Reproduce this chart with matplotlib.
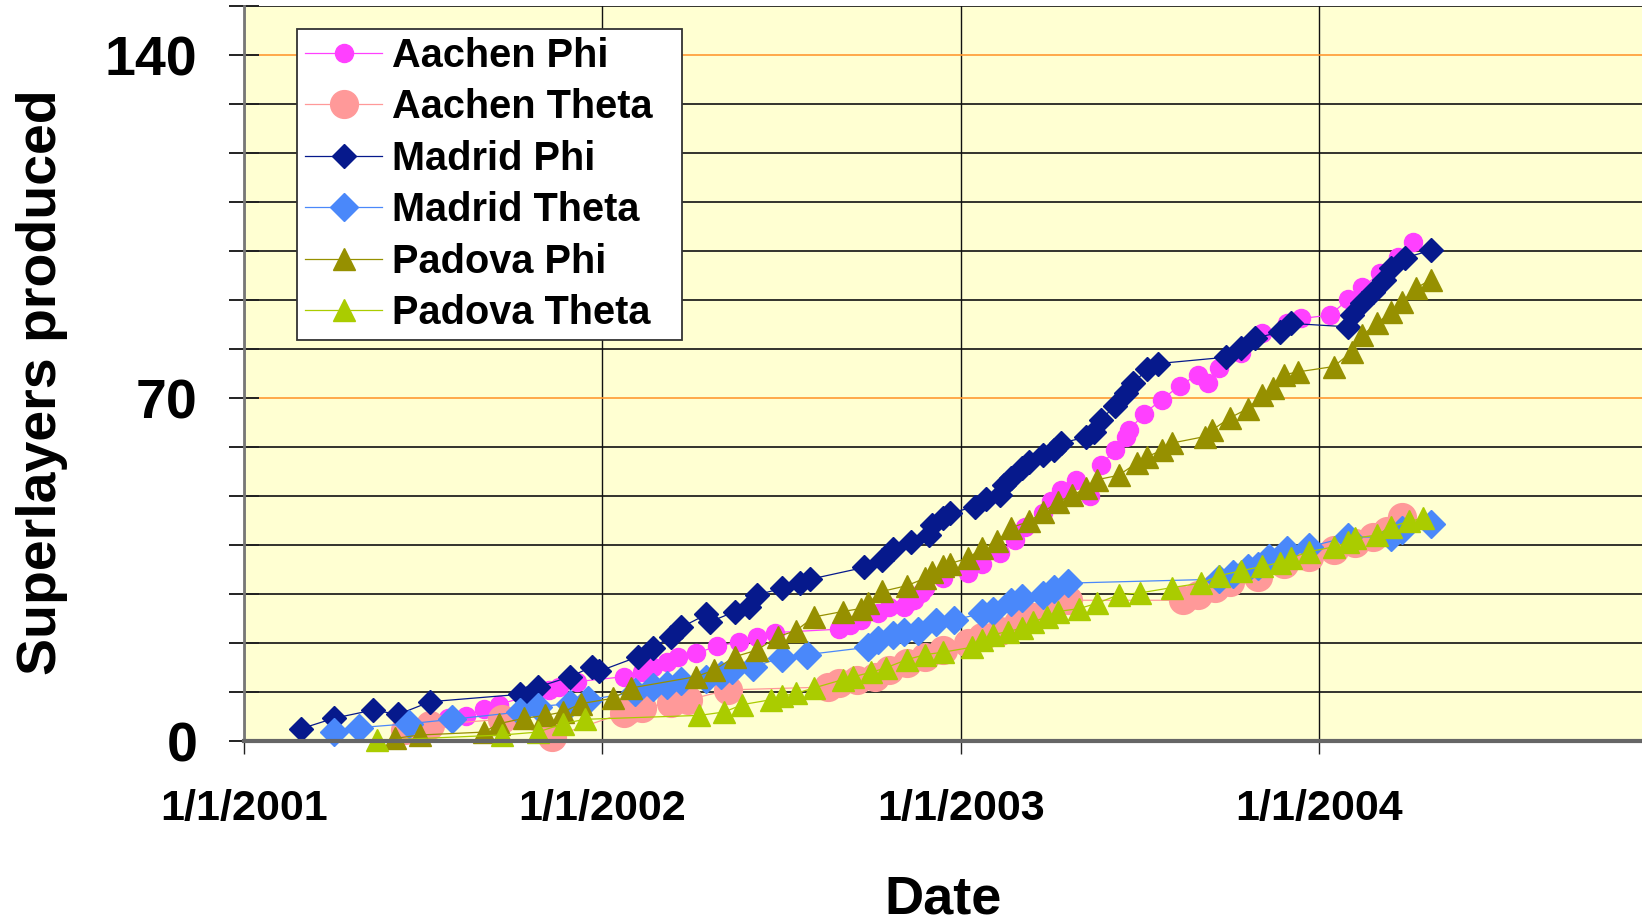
import matplotlib.pyplot as plt
from matplotlib.ticker import FixedLocator

# dates as decimal years, counts
aachen_phi_t = [2001.57, 2001.62, 2001.67, 2001.71, 2001.85, 2001.88, 2001.93,
                2002.06, 2002.11, 2002.14, 2002.18, 2002.21, 2002.26, 2002.32,
                2002.38, 2002.43, 2002.48, 2002.66, 2002.69, 2002.72, 2002.77,
                2002.80, 2002.84, 2002.85, 2002.87, 2002.89, 2002.90, 2002.95,
                2003.02, 2003.06, 2003.11, 2003.15, 2003.18, 2003.23, 2003.25,
                2003.28, 2003.32, 2003.36, 2003.39, 2003.43, 2003.46, 2003.47,
                2003.51, 2003.56, 2003.61, 2003.66, 2003.69, 2003.72, 2003.78,
                2003.84, 2003.91, 2003.95, 2004.03, 2004.08, 2004.12, 2004.17,
                2004.22, 2004.26]
aachen_phi_n = [4.7, 5.1, 6.6, 7.5, 10.5, 11.1, 12.2,
                13.2, 14.1, 15.2, 16.2, 17.3, 18.0, 19.4,
                20.3, 21.4, 22.2, 22.9, 23.7, 24.8, 26.1,
                27.4, 27.5, 28.2, 28.8, 30.3, 31.2, 33.3,
                34.4, 36.3, 38.5, 41.0, 43.8, 46.6, 49.0,
                51.3, 53.4, 50.0, 56.4, 59.4, 62.2, 63.5,
                66.9, 69.7, 72.6, 74.8, 73.1, 76.3, 79.3,
                83.3, 85.3, 86.3, 87.0, 90.2, 92.7, 95.5,
                98.9, 101.9]

aachen_theta_t = [2001.45, 2001.52, 2001.72, 2001.86, 2002.06, 2002.07, 2002.11,
                  2002.19, 2002.24, 2002.35, 2002.63, 2002.66, 2002.71, 2002.76,
                  2002.80, 2002.85, 2002.90, 2002.95, 2003.02, 2003.06, 2003.11,
                  2003.16, 2003.20, 2003.25, 2003.30, 2003.62, 2003.66, 2003.71,
                  2003.75, 2003.83, 2003.90, 2003.97, 2004.04, 2004.10, 2004.15,
                  2004.19, 2004.23]
aachen_theta_n = [2.4, 3.4, 4.5, 0.9, 5.8, 6.4, 6.8,
                  7.9, 8.5, 10.5, 11.1, 12.0, 12.6, 13.2,
                  14.5, 16.0, 17.3, 18.6, 20.1, 21.4, 22.6,
                  24.1, 25.4, 27.1, 28.8, 28.8, 29.9, 31.4,
                  32.5, 33.5, 36.3, 37.6, 39.1, 40.4, 41.7,
                  43.0, 45.7]

madrid_phi_t = [2001.16, 2001.25, 2001.36, 2001.43, 2001.52, 2001.77, 2001.79,
                2001.82, 2001.91, 2001.97, 2001.99, 2002.10, 2002.14, 2002.19,
                2002.22, 2002.29, 2002.30, 2002.37, 2002.41, 2002.43, 2002.50,
                2002.55, 2002.58, 2002.73, 2002.78, 2002.81, 2002.86, 2002.91,
                2002.92, 2002.95, 2002.97, 2003.04, 2003.07, 2003.11, 2003.12,
                2003.14, 2003.17, 2003.19, 2003.23, 2003.26, 2003.28, 2003.35,
                2003.37, 2003.39, 2003.43, 2003.46, 2003.48, 2003.52, 2003.55,
                2003.74, 2003.78, 2003.82, 2003.89, 2003.92, 2004.08, 2004.09,
                2004.12, 2004.15, 2004.18, 2004.20, 2004.24, 2004.31]
madrid_phi_n = [2.6, 4.7, 6.4, 5.5, 8.1, 9.6, 8.8,
                11.1, 13.2, 15.2, 14.3, 17.3, 19.0, 21.4,
                23.3, 25.9, 24.4, 26.5, 27.4, 29.9, 31.2,
                32.3, 33.1, 35.5, 37.0, 39.3, 40.7, 42.1,
                44.2, 45.5, 46.6, 47.9, 49.4, 50.2, 52.3,
                53.8, 55.8, 57.1, 58.5, 59.4, 60.9, 62.1,
                63.2, 65.6, 68.5, 71.0, 73.1, 75.9, 77.1,
                78.4, 80.3, 82.3, 83.5, 85.3, 84.6, 87.0,
                89.5, 91.7, 94.2, 96.6, 98.7, 100.2]

madrid_theta_t = [2001.25, 2001.32, 2001.46, 2001.58, 2001.77, 2001.82, 2001.91,
                  2001.96, 2002.09, 2002.14, 2002.18, 2002.22, 2002.29, 2002.33,
                  2002.36, 2002.42, 2002.50, 2002.57, 2002.74, 2002.77, 2002.81,
                  2002.84, 2002.88, 2002.93, 2002.98, 2003.06, 2003.09, 2003.14,
                  2003.17, 2003.23, 2003.26, 2003.30, 2003.72, 2003.76, 2003.80,
                  2003.83, 2003.86, 2003.91, 2003.97, 2004.08, 2004.20, 2004.23,
                  2004.31]
madrid_theta_n = [1.9, 2.8, 3.6, 4.5, 6.0, 7.1, 7.7,
                  8.5, 10.0, 11.1, 11.5, 12.4, 12.8, 13.6,
                  14.5, 15.2, 17.1, 17.7, 19.2, 20.7, 21.8,
                  22.4, 22.6, 24.4, 24.8, 26.1, 26.7, 28.4,
                  29.3, 29.9, 31.0, 32.3, 33.1, 34.2, 35.3,
                  35.7, 37.4, 39.1, 39.7, 41.7, 41.7, 43.2,
                  44.4]

padova_phi_t = [2001.42, 2001.49, 2001.67, 2001.71, 2001.78, 2001.84, 2001.89,
                2001.94, 2002.03, 2002.08, 2002.26, 2002.31, 2002.37, 2002.43,
                2002.49, 2002.54, 2002.59, 2002.67, 2002.72, 2002.74, 2002.78,
                2002.85, 2002.90, 2002.92, 2002.95, 2002.97, 2003.02, 2003.06,
                2003.10, 2003.14, 2003.19, 2003.23, 2003.27, 2003.31, 2003.35,
                2003.38, 2003.44, 2003.49, 2003.52, 2003.56, 2003.59, 2003.68,
                2003.70, 2003.75, 2003.80, 2003.84, 2003.87, 2003.90, 2003.94,
                2004.04, 2004.09, 2004.12, 2004.16, 2004.20, 2004.23, 2004.27,
                2004.31]
padova_phi_n = [0.6, 1.3, 1.9, 3.6, 4.7, 5.3, 6.0,
                7.7, 8.8, 10.9, 13.2, 14.5, 17.3, 18.6,
                21.4, 22.6, 25.4, 26.5, 27.1, 28.2, 30.6,
                31.8, 33.3, 34.6, 35.7, 36.3, 37.4, 39.5,
                40.8, 43.6, 44.9, 46.8, 48.9, 50.2, 51.7,
                53.4, 54.3, 56.8, 58.1, 59.4, 60.9, 62.2,
                63.5, 66.0, 67.9, 70.7, 72.2, 74.8, 75.4,
                76.5, 79.5, 82.9, 85.3, 87.6, 89.7, 92.5,
                94.2]

padova_theta_t = [2001.37, 2001.72, 2001.82, 2001.89, 2001.95, 2002.27, 2002.34,
                  2002.39, 2002.47, 2002.50, 2002.54, 2002.59, 2002.67, 2002.70,
                  2002.75, 2002.79, 2002.85, 2002.90, 2002.95, 2003.03, 2003.06,
                  2003.09, 2003.13, 2003.17, 2003.20, 2003.24, 2003.27, 2003.33,
                  2003.38, 2003.44, 2003.50, 2003.59, 2003.67, 2003.72, 2003.78,
                  2003.84, 2003.89, 2003.92, 2003.97, 2004.04, 2004.08, 2004.10,
                  2004.16, 2004.20, 2004.25, 2004.29]
padova_theta_n = [0.2, 1.3, 1.9, 3.6, 4.5, 5.3, 6.0,
                  7.5, 8.5, 9.2, 9.8, 10.9, 12.6, 13.2,
                  14.1, 15.0, 16.7, 17.7, 18.2, 19.2, 20.7,
                  21.8, 22.4, 23.1, 24.4, 25.4, 26.5, 27.1,
                  28.2, 29.9, 30.3, 31.4, 32.3, 33.8, 34.8,
                  35.7, 36.5, 37.4, 38.7, 39.7, 40.6, 41.5,
                  42.1, 43.8, 44.9, 45.5]

year_ticks = [2001, 2002, 2003, 2004]
year_labels = ["1/1/2001", "1/1/2002", "1/1/2003", "1/1/2004"]

plt.rcParams["font.family"] = ["Liberation Sans", "DejaVu Sans"]
plt.rcParams["font.weight"] = "bold"

fig = plt.figure(figsize=(16.42, 9.22), dpi=100)
ax = fig.add_axes([0.1486, 0.1959, 0.8514, 0.7972])
ax.set_facecolor("#FFFFD2")

# series, same order as the legend (later ones drawn on top)
ax.plot(aachen_phi_t, aachen_phi_n, color="#FF40FF", lw=0.9, marker="o", ms=13,
        mec="#FF40FF", clip_on=False, label="Aachen Phi")
ax.plot(aachen_theta_t, aachen_theta_n, color="#FF9999", lw=0.9, marker="o", ms=20,
        mec="#FF9999", clip_on=False, label="Aachen Theta  ")
ax.plot(madrid_phi_t, madrid_phi_n, color="#06198C", lw=0.9, marker="D", ms=12,
        mec="#06198C", clip_on=False, label="Madrid Phi")
ax.plot(madrid_theta_t, madrid_theta_n, color="#4A88FA", lw=0.9, marker="D", ms=14,
        mec="#4A88FA", clip_on=False, label="Madrid Theta")
ax.plot(padova_phi_t, padova_phi_n, color="#969000", lw=0.9, marker="^", ms=16,
        mec="#969000", clip_on=False, label="Padova Phi")
ax.plot(padova_theta_t, padova_theta_n, color="#AACC00", lw=0.9, marker="^", ms=16,
        mec="#AACC00", clip_on=False, label="Padova Theta")

ax.set_xlim(2001.0, 2004.9)
ax.set_ylim(0, 150)

# ticks and grid
ax.set_xticks(year_ticks)
ax.set_xticklabels(year_labels)
ax.set_yticks([0, 70, 140])
ax.yaxis.set_minor_locator(FixedLocator([10, 20, 30, 40, 50, 60, 80, 90, 100,
                                         110, 120, 130, 150]))
ax.tick_params(axis="x", direction="out", length=9.5, width=1, color="#222222",
               labelsize=31, pad=25)
ax.tick_params(axis="y", which="both", direction="inout", length=21, width=1.4,
               color="#222222", labelsize=40, pad=23)
ax.grid(axis="x", color="#111111", lw=1)
ax.grid(axis="y", which="major", color="#FF9933", lw=1.2)
ax.grid(axis="y", which="minor", color="#111111", lw=1.2)
ax.set_axisbelow(True)

for side in ["top", "right"]:
    ax.spines[side].set_visible(False)
ax.spines["left"].set_color("#777777")
ax.spines["left"].set_linewidth(2)
ax.spines["bottom"].set_color("#666666")
ax.spines["bottom"].set_linewidth(3)

# axis titles
fig.text(42 / 1642, 1 - 382 / 922, "Superlayers produced", rotation=90,
         ha="center", va="center", fontsize=40, fontweight="bold")
fig.text(943 / 1642, 1 - 913 / 922, "Date", ha="center", va="baseline",
         fontsize=39, fontweight="bold")

leg = ax.legend(loc="upper left", bbox_to_anchor=(0.0379, 0.9693), borderaxespad=0,
                fontsize=28.6, fancybox=False, framealpha=1, edgecolor="#333333",
                handlelength=1.95, handletextpad=0.24, labelspacing=0.34,
                borderpad=0.2)
leg.get_frame().set_linewidth(1.3)

plt.savefig("out.png", dpi=100)
